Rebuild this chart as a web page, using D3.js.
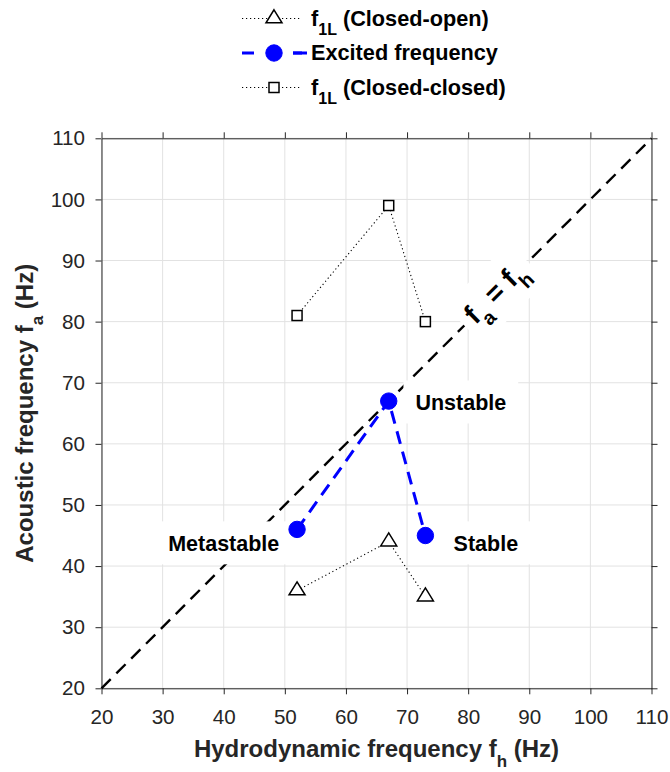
<!DOCTYPE html>
<html>
<head>
<meta charset="utf-8">
<script src="https://cdn.jsdelivr.net/npm/d3@7"></script>
<style>
body { margin: 0; background: #fff; }
text { font-family: "Liberation Sans", Arial, Helvetica, sans-serif; }
</style>
</head>
<body>
<svg id="chart" width="670" height="772"></svg>
<script>
// values
var fh = [52, 67, 73];
var closedOpen = [36, 44, 35];
var excited = [46, 67, 45];
var closedClosed = [81, 99, 80];
var ticks = [20, 30, 40, 50, 60, 70, 80, 90, 100, 110];
var equality = [20, 110];

var notes = [
    {text: "Unstable", x: 78.8, y: 66.85},
    {text: "Stable", x: 82.9, y: 43.8},
    {text: "Metastable", x: 40.0, y: 43.8}
];

var legendRows = [
    {main: "f", sub: "1L", rest: " (Closed-open)", kind: "tri"},
    {main: "Excited frequency", sub: "", rest: "", kind: "dot"},
    {main: "f", sub: "1L", rest: " (Closed-closed)", kind: "sq"}
];

var AX = "#262626";
var BLUE = "#0000ff";

var svg = d3.select("#chart");
var m = {left: 101.5, top: 138.3, w: 550, h: 550};

var x = d3.scaleLinear().domain([20, 110]).range([m.left, m.left + m.w]);
var y = d3.scaleLinear().domain([20, 110]).range([m.top + m.h, m.top]);

// grid
var grid = svg.append("g").attr("stroke", "#e2e2e2").attr("stroke-width", 1);
grid.selectAll(".gx").data(ticks).enter().append("line")
    .attr("x1", d => x(d)).attr("x2", d => x(d))
    .attr("y1", y(20)).attr("y2", y(110));
grid.selectAll(".gy").data(ticks).enter().append("line")
    .attr("y1", d => y(d)).attr("y2", d => y(d))
    .attr("x1", x(20)).attr("x2", x(110));

// axes, ticks outward on all four sides
function styleAxis(g){
    g.selectAll("path").attr("stroke", AX);
    g.selectAll("line").attr("stroke", AX);
    g.selectAll("text").attr("fill", AX)
        .style("font-size", "20.6px");
}
svg.append("g").attr("transform", "translate(0," + y(20) + ")")
    .call(d3.axisBottom(x).tickValues(ticks).tickSize(6).tickSizeOuter(0).tickPadding(15.5))
    .call(styleAxis);
svg.append("g").attr("transform", "translate(" + x(20) + ",0)")
    .call(d3.axisLeft(y).tickValues(ticks).tickSize(6).tickSizeOuter(0).tickPadding(10.5))
    .call(styleAxis);
svg.append("g").attr("transform", "translate(0," + y(110) + ")")
    .call(d3.axisTop(x).tickValues(ticks).tickSize(6).tickSizeOuter(0).tickFormat(""))
    .call(styleAxis);
svg.append("g").attr("transform", "translate(" + x(110) + ",0)")
    .call(d3.axisRight(y).tickValues(ticks).tickSize(6).tickSizeOuter(0).tickFormat(""))
    .call(styleAxis);

// fa = fh diagonal
svg.append("line")
    .attr("x1", x(equality[0])).attr("y1", y(equality[0]))
    .attr("x2", x(equality[1])).attr("y2", y(equality[1]))
    .attr("stroke", "#000").attr("stroke-width", 2.4)
    .attr("stroke-dasharray", "13,8");

var line = d3.line().x(d => x(d[0])).y(d => y(d[1]));
function pairs(v){ return fh.map((f, i) => [f, v[i]]); }

svg.append("path").datum(pairs(closedOpen)).attr("d", line)
    .attr("fill", "none").attr("stroke", "#000").attr("stroke-width", 1.1)
    .attr("stroke-dasharray", "1.2,2.8");
svg.append("path").datum(pairs(closedClosed)).attr("d", line)
    .attr("fill", "none").attr("stroke", "#000").attr("stroke-width", 1.1)
    .attr("stroke-dasharray", "1.2,2.8");
svg.append("path").datum(pairs(excited)).attr("d", line)
    .attr("fill", "none").attr("stroke", BLUE).attr("stroke-width", 3)
    .attr("stroke-dasharray", "13,8");

// white backed labels
function boxed(g, txt, size){
    var t = g.append("text").attr("text-anchor", "middle")
        .attr("y", 0.36 * size)
        .style("font-size", size + "px").style("font-weight", "bold")
        .attr("fill", "#000").text(txt);
    var w = t.node().getComputedTextLength();
    g.insert("rect", "text")
        .attr("x", -w / 2 - 12).attr("width", w + 24)
        .attr("y", -21.5).attr("height", 43)
        .attr("fill", "#fff");
}
notes.forEach(function(n){
    var g = svg.append("g").attr("transform", "translate(" + x(n.x) + "," + y(n.y) + ")");
    boxed(g, n.text, 21.5);
});

// rotated fa = fh label
var eq = svg.append("g")
    .attr("transform", "translate(" + x(84.55) + "," + y(84.6) + ") rotate(-45)");
var eqText = eq.append("text").attr("text-anchor", "middle").attr("y", 8)
    .style("font-size", "28px").style("font-weight", "bold").attr("fill", "#000");
eqText.append("tspan").text("f");
eqText.append("tspan").attr("dy", 11).style("font-size", "20px").text("a");
eqText.append("tspan").attr("dy", -11).text(" = f");
eqText.append("tspan").attr("dy", 11).style("font-size", "20px").text("h");
var eb = eqText.node().getBBox();
eq.insert("rect", "text")
    .attr("x", eb.x - 8).attr("width", eb.width + 16)
    .attr("y", -27).attr("height", 54)
    .attr("fill", "#fff");

// markers
function tri(sel){
    sel.append("path").attr("d", "M0,-8.7L8,4.3L-8,4.3Z")
        .attr("fill", "#fff").attr("stroke", "#000").attr("stroke-width", 1.5);
}
function sq(sel){
    sel.append("rect").attr("x", -5).attr("y", -5).attr("width", 10).attr("height", 10)
        .attr("fill", "#fff").attr("stroke", "#000").attr("stroke-width", 1.5);
}
function dot(sel){
    sel.append("circle").attr("r", 8.2).attr("fill", BLUE).attr("stroke", BLUE);
}
var markers = {tri: tri, sq: sq, dot: dot};

svg.selectAll(".m-tri").data(pairs(closedOpen)).enter().append("g")
    .attr("transform", d => "translate(" + x(d[0]) + "," + y(d[1]) + ")").call(tri);
svg.selectAll(".m-sq").data(pairs(closedClosed)).enter().append("g")
    .attr("transform", d => "translate(" + x(d[0]) + "," + y(d[1]) + ")").call(sq);
svg.selectAll(".m-dot").data(pairs(excited)).enter().append("g")
    .attr("transform", d => "translate(" + x(d[0]) + "," + y(d[1]) + ")").call(dot);

// axis labels
var xl = svg.append("text").attr("x", x(65)).attr("y", 756.7)
    .attr("text-anchor", "middle").attr("fill", AX)
    .style("font-size", "24px").style("font-weight", "bold");
xl.append("tspan").text("Hydrodynamic frequency f");
xl.append("tspan").attr("dy", 10).style("font-size", "17px").text("h");
xl.append("tspan").attr("dy", -10).text(" (Hz)");

var yl = svg.append("text")
    .attr("transform", "translate(33," + y(65) + ") rotate(-90)")
    .attr("text-anchor", "middle").attr("fill", AX)
    .style("font-size", "24px").style("font-weight", "bold");
yl.append("tspan").text("Acoustic frequency f");
yl.append("tspan").attr("dy", 10).style("font-size", "17px").text("a");
yl.append("tspan").attr("dy", -10).text(" (Hz)");

// legend
var leg = svg.append("g");
legendRows.forEach(function(r, i){
    var g = leg.append("g").attr("transform", "translate(0," + (18.5 + i * 34.5) + ")");
    if (r.kind == "dot"){
        g.append("line").attr("x1", 242).attr("x2", 302)
            .attr("stroke", BLUE).attr("stroke-width", 3).attr("stroke-dasharray", "12,39");
        g.append("line").attr("x1", 293).attr("x2", 307)
            .attr("stroke", BLUE).attr("stroke-width", 3);
    } else {
        g.append("line").attr("x1", 242).attr("x2", 302)
            .attr("stroke", "#000").attr("stroke-width", 1.1).attr("stroke-dasharray", "1.2,2.8");
    }
    var mk = g.append("g").attr("transform", "translate(274,0)");
    mk.call(markers[r.kind]);
    var t = g.append("text").attr("x", 311).attr("y", 7)
        .style("font-size", "21.7px").style("font-weight", "bold").attr("fill", "#000");
    t.append("tspan").text(r.main);
    if (r.sub){
        t.append("tspan").attr("dy", 9).style("font-size", "16px").text(r.sub);
        t.append("tspan").attr("dy", -9).text(r.rest);
    }
});
</script>
</body>
</html>
